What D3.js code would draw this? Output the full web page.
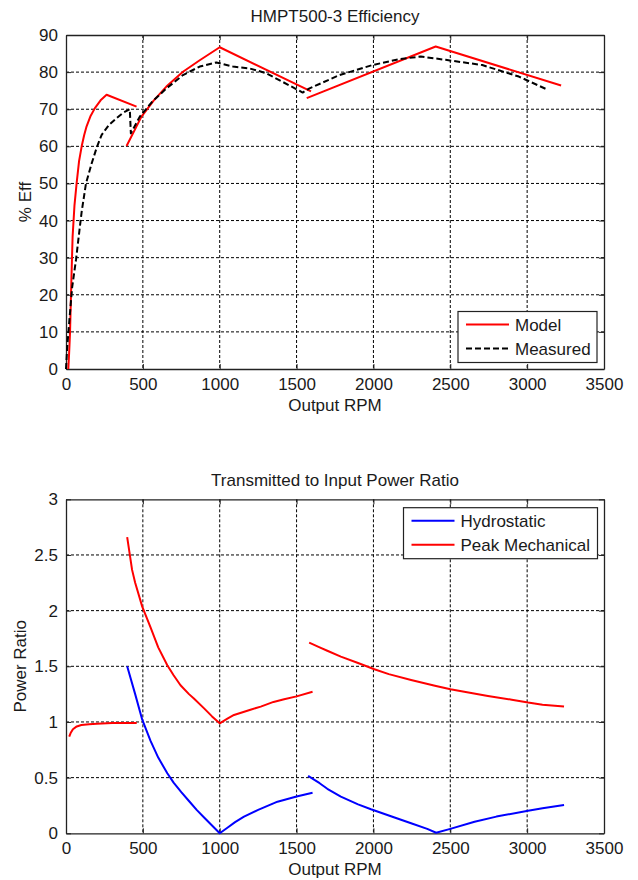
<!DOCTYPE html>
<html>
<head>
<meta charset="utf-8">
<script src="https://cdn.jsdelivr.net/npm/d3@7"></script>
<style>
  body { margin: 0; background: #fff; }
  text { font-family: "Liberation Sans", Arial, sans-serif; fill: #1a1a1a; }
</style>
</head>
<body>
<div id="chart-area"></div>
<script>
// top chart: efficiency (null = break between segments)
var modelRpm = [15, 20, 26, 35, 43, 55, 69, 85, 102, 118, 134, 160, 188, 225, 264, 459, null,
  394, 491, 570, 653, 761, 870, 1000, 1594, null, 1566, 2405, 3221];
var modelEff = [0, 4, 9.6, 24, 35.7, 44, 50, 56, 60, 63, 65.4, 68.2, 70.3, 72.4, 73.9, 70.7, null,
  60.1, 68, 72.3, 76.1, 80.1, 83.2, 86.7, 74.8, null, 73, 86.9, 76.4];

var measRpm = [0, 8, 22, 40, 65, 85, 102, 130, 167, 200, 232, 280, 329, 370, 415, 422, 480, 560, 653, 761, 870, 978,
  1086, 1194, 1303, 1540, 1584, 1778, 1994, 2168, 2308, 2470, 2708, 2946, 3120];
var measEff = [0, 6, 13.2, 22, 29.4, 36.5, 42.4, 50, 55.4, 59.7, 63.1, 65.8, 67.6, 69, 70, 63.5, 68, 72, 75.6, 79.2, 81.5, 82.6,
  81.5, 81, 79.7, 74.5, 75.6, 79.2, 81.9, 83.5, 84.2, 83.3, 81.9, 78.8, 75.5];

// bottom chart: power ratio
var hydroRpm = [398, 450, 496, 550, 600, 659, 700, 750, 800, 850, 900, 950, 1000,
  1050, 1100, 1158, 1250, 1376, 1500, 1604, null,
  1575, 1650, 1700, 1788, 1900, 1984, 2100, 2245, 2350, 2408, 2500, 2658, 2800, 3006, 3100, 3240];
var hydroRatio = [1.5, 1.25, 1.02, 0.83, 0.68, 0.54, 0.455, 0.37, 0.29, 0.21, 0.14, 0.07, 0,
  0.05, 0.1, 0.149, 0.21, 0.284, 0.33, 0.365, null,
  0.515, 0.45, 0.4, 0.329, 0.26, 0.216, 0.16, 0.09, 0.04, 0.005, 0.04, 0.104, 0.15, 0.203, 0.225, 0.254];

var mechRpm = [21, 30, 45, 70, 100, 150, 200, 300, 460, null,
  398, 430, 450, 496, 550, 600, 659, 700, 745, 800, 832, 900, 950, 1000,
  1050, 1093, 1200, 1267, 1350, 1419, 1500, 1604, null,
  1582, 1650, 1700, 1788, 1900, 2006, 2100, 2245, 2400, 2501, 2600, 2745, 2900, 3006, 3100, 3240];
var mechRatio = [0.868, 0.9, 0.935, 0.96, 0.972, 0.98, 0.985, 0.99, 0.99, null,
  2.66, 2.366, 2.25, 2.036, 1.85, 1.67, 1.51, 1.42, 1.33, 1.25, 1.21, 1.12, 1.05, 0.988,
  1.03, 1.063, 1.11, 1.138, 1.18, 1.204, 1.23, 1.272, null,
  1.712, 1.67, 1.64, 1.587, 1.53, 1.473, 1.43, 1.377, 1.325, 1.294, 1.27, 1.234, 1.2, 1.174, 1.155, 1.138];

var xTicks = [0, 500, 1000, 1500, 2000, 2500, 3000, 3500];
var effTicks = [0, 10, 20, 30, 40, 50, 60, 70, 80, 90];
var ratioTicks = [0, 0.5, 1, 1.5, 2, 2.5, 3];

var width = 638, height = 880;
var fontSize = "17px";

var svg = d3.select("#chart-area")
  .append("svg")
  .attr("width", width)
  .attr("height", height);

function pairs(xs, ys) {
  return xs.map((x, i) => [x, ys[i]]);
}

function panel(opts) {
  var g = svg.append("g");
  var x = d3.scaleLinear().domain([0, 3500]).range([66, 604]);
  var y = d3.scaleLinear().domain(opts.yDomain).range([opts.bottom, opts.top]);

  // grid
  g.append("g").selectAll("line.vg").data(xTicks.slice(1, -1)).enter().append("line")
    .attr("x1", d => x(d)).attr("x2", d => x(d))
    .attr("y1", opts.top).attr("y2", opts.bottom)
    .attr("stroke", "#000").attr("stroke-width", 1).attr("stroke-dasharray", "3,2");
  g.append("g").selectAll("line.hg").data(opts.yTicks.slice(1, -1)).enter().append("line")
    .attr("x1", 66).attr("x2", 604)
    .attr("y1", d => y(d)).attr("y2", d => y(d))
    .attr("stroke", "#000").attr("stroke-width", 1).attr("stroke-dasharray", "3,2");

  // axes (ticks inside)
  var xAxisG = g.append("g")
    .attr("transform", "translate(0," + opts.bottom + ")")
    .call(d3.axisBottom(x).tickValues(xTicks).tickSizeInner(-5).tickSizeOuter(0).tickPadding(9).tickFormat(d3.format("d")));
  var xTopG = g.append("g")
    .attr("transform", "translate(0," + opts.top + ")")
    .call(d3.axisTop(x).tickValues(xTicks).tickSizeInner(-5).tickSizeOuter(0).tickFormat(""));
  var yAxisG = g.append("g")
    .attr("transform", "translate(66,0)")
    .call(d3.axisLeft(y).tickValues(opts.yTicks).tickSizeInner(-5).tickSizeOuter(0).tickPadding(8).tickFormat(d => String(d)));
  var yRightG = g.append("g")
    .attr("transform", "translate(604,0)")
    .call(d3.axisRight(y).tickValues(opts.yTicks).tickSizeInner(-5).tickSizeOuter(0).tickFormat(""));

  [xAxisG, xTopG, yAxisG, yRightG].forEach(a => {
    a.selectAll(".domain").attr("stroke", "#222").attr("stroke-width", 1.3);
    a.selectAll(".tick line").attr("stroke", "#222");
    a.selectAll("text").style("font-size", fontSize).style("fill", "#1a1a1a")
      .style("font-family", "'Liberation Sans', Arial, sans-serif");
  });

  // lines
  var line = d3.line()
    .defined(d => d[0] != null && d[1] != null)
    .x(d => x(d[0]))
    .y(d => y(d[1]));

  opts.series.forEach(s => {
    g.append("path")
      .datum(pairs(s.xs, s.ys))
      .attr("d", line)
      .attr("fill", "none")
      .attr("stroke", s.color)
      .attr("stroke-width", 2)
      .attr("stroke-linejoin", "round")
      .attr("stroke-dasharray", s.dash || null);
  });

  // title and labels
  svg.append("text")
    .attr("x", 335).attr("y", opts.top - 13)
    .attr("text-anchor", "middle")
    .style("font-size", fontSize)
    .text(opts.title);

  svg.append("text")
    .attr("x", 335).attr("y", opts.bottom + 42)
    .attr("text-anchor", "middle")
    .style("font-size", fontSize)
    .text("Output RPM");

  svg.append("text")
    .attr("transform", "translate(" + opts.yLabelX + "," + ((opts.top + opts.bottom) / 2) + ") rotate(-90)")
    .attr("text-anchor", "middle")
    .attr("dy", "0.35em")
    .style("font-size", fontSize)
    .text(opts.yLabel);

  // legend
  var lg = svg.append("g");
  lg.append("rect")
    .attr("x", opts.legend.x).attr("y", opts.legend.y)
    .attr("width", opts.legend.w).attr("height", 51)
    .attr("fill", "#fff").attr("stroke", "#222").attr("stroke-width", 1.2);
  opts.series.forEach((s, i) => {
    var ly = opts.legend.y + 13 + i * 24;
    lg.append("line")
      .attr("x1", opts.legend.x + 8).attr("x2", opts.legend.x + 51)
      .attr("y1", ly).attr("y2", ly)
      .attr("stroke", s.color).attr("stroke-width", 2)
      .attr("stroke-dasharray", s.dash || null);
    lg.append("text")
      .attr("x", opts.legend.x + 57).attr("y", ly + 6)
      .style("font-size", fontSize)
      .text(s.name);
  });
}

panel({
  top: 35, bottom: 369,
  yDomain: [0, 90], yTicks: effTicks,
  title: "HMPT500-3 Efficiency",
  yLabel: "% Eff", yLabelX: 25,
  legend: { x: 458, y: 311.5, w: 139 },
  series: [
    { name: "Model", xs: modelRpm, ys: modelEff, color: "#ff0000" },
    { name: "Measured", xs: measRpm, ys: measEff, color: "#000", dash: "6,3" }
  ]
});

panel({
  top: 499.3, bottom: 833.3,
  yDomain: [0, 3], yTicks: ratioTicks,
  title: "Transmitted to Input Power Ratio",
  yLabel: "Power Ratio", yLabelX: 20,
  legend: { x: 403.5, y: 507.7, w: 194 },
  series: [
    { name: "Hydrostatic", xs: hydroRpm, ys: hydroRatio, color: "#0000ff" },
    { name: "Peak Mechanical", xs: mechRpm, ys: mechRatio, color: "#ff0000" }
  ]
});
</script>
</body>
</html>
